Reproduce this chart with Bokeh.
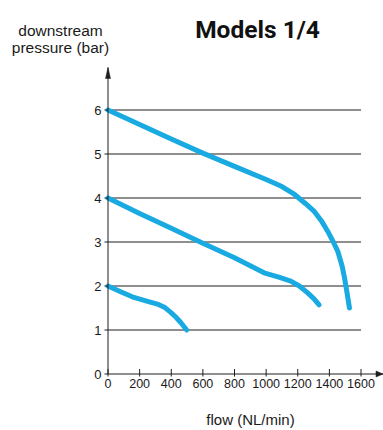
from bokeh.plotting import figure
from bokeh.embed import file_html
from bokeh.resources import INLINE
from bokeh.core.properties import value

# ---- data ----
title_text = "Models 1/4"
y_label_lines = ["downstream", "pressure (bar)"]
x_label = "flow (NL/min)"
x_ticks = [0, 200, 400, 600, 800, 1000, 1200, 1400, 1600]
x_tick_labels = ["0", "200", "400", "600", "800", "1000", "1200", "1400", "1600"]
y_ticks = [0, 1, 2, 3, 4, 5, 6]
y_tick_labels = ["0", "1", "2", "3", "4", "5", "6"]
grid_levels = [1, 2, 3, 4, 5, 6]

flow_6bar = [0, 200, 400, 600, 800, 1000, 1100, 1180, 1250, 1306, 1350, 1390, 1425, 1454, 1480, 1496, 1512, 1527]
pres_6bar = [6.0, 5.67, 5.34, 5.02, 4.72, 4.42, 4.26, 4.08, 3.87, 3.69, 3.48, 3.24, 3.0, 2.78, 2.46, 2.18, 1.84, 1.5]

flow_4bar = [0, 200, 400, 600, 800, 987, 1080, 1156, 1210, 1261, 1300, 1335]
pres_4bar = [4.0, 3.65, 3.31, 2.97, 2.64, 2.3, 2.2, 2.11, 2.0, 1.85, 1.72, 1.57]

flow_2bar = [0, 80, 164, 250, 312, 360, 397, 430, 460, 498]
pres_2bar = [2.0, 1.87, 1.74, 1.65, 1.59, 1.51, 1.40, 1.29, 1.17, 1.0]

curves = [(flow_6bar, pres_6bar), (flow_4bar, pres_4bar), (flow_2bar, pres_2bar)]

# ---- styling / geometry (pixels) ----
W, H = 383, 430
X0_PX, PX_PER_X = 107.5, 253.0 / 1600.0      # page x of flow 0, px per flow unit
Y0_PX, PX_PER_Y = 373.5, 44.0                # page y of pressure 0, px per bar

def dx(px):
    return px / PX_PER_X

def dy(px):
    return px / PX_PER_Y

def at_x(page_x):
    return (page_x - X0_PX) / PX_PER_X

def at_y(page_y):
    return (Y0_PX - page_y) / PX_PER_Y

CURVE_COLOR = "#1aaae2"
AXIS_COLOR = "#1e1e1e"
TEXT_COLOR = "#1a1a1a"
TICK_FONT = "Liberation Sans"
LABEL_FONT = "Liberation Sans"

p = figure(width=W, height=H, x_range=(at_x(0), at_x(W)), y_range=(at_y(H), at_y(0)),
           output_backend="svg", toolbar_location=None, title=None,
           x_axis_location=None, y_axis_location=None,
           min_border=0, min_border_left=0, min_border_right=0, min_border_top=0, min_border_bottom=0)
p.outline_line_color = None
p.grid.visible = False
p.background_fill_color = "white"
p.border_fill_color = "white"

# horizontal grid lines up to the last tick
p.segment(x0=[x_ticks[0]] * len(grid_levels), x1=[x_ticks[-1]] * len(grid_levels),
          y0=grid_levels, y1=grid_levels, line_color="#1e1e1e", line_width=1)

# curves
for fx, py in curves:
    p.line(fx, py, line_color=CURVE_COLOR, line_width=5, line_cap="round", line_join="round")

# axis lines
X_TIP = at_x(382.5)
Y_TIP = at_y(67.0)
p.segment(x0=[0, 0], y0=[0, 0], x1=[X_TIP, 0], y1=[0, Y_TIP], line_color=AXIS_COLOR, line_width=1)

# arrow heads
p.patches(xs=[[X_TIP, X_TIP - dx(7), X_TIP - dx(7)], [0, -dx(2.5), dx(2.5)]],
          ys=[[0, dy(3), -dy(3)], [Y_TIP, Y_TIP - dy(11), Y_TIP - dy(11)]],
          fill_color=AXIS_COLOR, line_color=AXIS_COLOR, line_width=0.5)

# ticks
p.segment(x0=x_ticks, x1=x_ticks, y0=[-dy(2.5)] * len(x_ticks), y1=[dy(5)] * len(x_ticks),
          line_color=AXIS_COLOR, line_width=1)
p.segment(x0=[-dx(3.5)] * len(y_ticks), x1=[0] * len(y_ticks), y0=y_ticks, y1=y_ticks,
          line_color=AXIS_COLOR, line_width=1)

# tick labels
p.text(x=x_ticks, y=[-dy(4.5)] * len(x_ticks), text=x_tick_labels, text_align="center",
       text_baseline="top", text_font=value(TICK_FONT), text_font_size="12.5px", text_color=TEXT_COLOR)
p.text(x=[-dx(6.5)] * len(y_ticks), y=y_ticks, text=y_tick_labels, text_align="right",
       text_baseline="middle", text_font=value(TICK_FONT), text_font_size="13px", text_color=TEXT_COLOR)

# title and axis titles
p.text(x=[at_x(257)], y=[at_y(29)], text=[title_text], text_align="center", text_baseline="alphabetic",
       text_font=value("Roboto"), text_font_style="bold", text_font_size="24.5px", text_color="#111111")
p.text(x=[at_x(60), at_x(60)], y=[at_y(30), at_y(47)], text=y_label_lines, text_align="center",
       text_baseline="alphabetic", text_font=value(LABEL_FONT), text_font_size="15.5px", text_color=TEXT_COLOR)
p.text(x=[at_x(250)], y=[at_y(419)], text=[x_label], text_align="center", text_baseline="alphabetic",
       text_font=value(LABEL_FONT), text_font_size="15px", text_color=TEXT_COLOR)

open("out.html", "w").write(file_html(p, INLINE))
